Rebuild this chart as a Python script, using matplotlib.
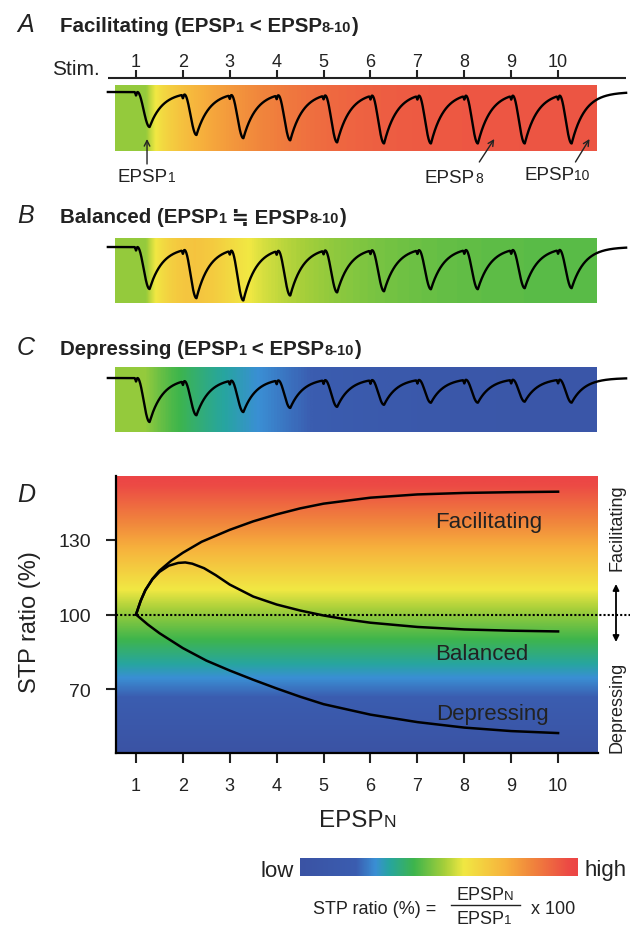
import numpy as np
import matplotlib
matplotlib.use("Agg")
import matplotlib.pyplot as plt
from matplotlib import transforms
from matplotlib.colors import LinearSegmentedColormap, Normalize

plt.rcParams['font.family'] = ['Liberation Sans', 'DejaVu Sans']
INK = '#222222'

# ---- data ----
stim = np.arange(1, 11)

# EPSP amplitudes of the example traces (arbitrary units, depth below baseline)
fac_amp = [35, 42, 45, 47, 49, 50, 50, 50, 50, 50]
bal_amp = [42, 50, 52, 47, 44, 43, 41, 41, 40, 40]
dep_amp = [44, 36, 33, 29, 28, 26, 24, 24, 23, 24]

# STP ratio curves of panel D
fac_x = [1, 1.1, 1.2, 1.35, 1.5, 1.75, 2, 2.4, 3, 3.5, 4, 4.5, 5, 6, 7, 8, 9, 10]
fac_y = [100, 105.5, 109.8, 114.3, 117.6, 121.6, 124.8, 129.2, 134, 137.4, 140.2, 142.6, 144.5, 146.9, 148.2, 148.8, 149.1, 149.3]
bal_x = [1, 1.1, 1.2, 1.35, 1.5, 1.7, 1.9, 2.05, 2.2, 2.45, 2.7, 3.0, 3.5, 4, 4.5, 5, 5.5, 6, 7, 8, 9, 10]
bal_y = [100, 105.5, 109.8, 114.1, 117.1, 119.6, 120.7, 120.9, 120.4, 118.6, 115.8, 112, 107.2, 104, 101.6, 99.6, 98, 96.7, 95, 94, 93.5, 93.2]
dep_x = [1, 1.25, 1.5, 2, 2.5, 3, 3.5, 4, 4.5, 5, 6, 7, 8, 9, 10]
dep_y = [100, 96, 92.5, 86.5, 81.5, 77.5, 73.8, 70.3, 67, 64, 59.8, 56.8, 54.6, 53.2, 52.4]

y_ticks = [70, 100, 130]

# low -> high colour scale
cm_pos = [0, 0.2, 0.27, 0.32, 0.41, 0.52, 0.59, 0.74, 0.83, 0.97, 1.0]
cm_col = ['#3a53a4', '#3b5db0', '#3a8fd4', '#27a5a0', '#3eb54c', '#a6cf3a',
          '#f1e843', '#f7b23d', '#f1883c', '#ec4a45', '#ec4545']
cmap = LinearSegmentedColormap.from_list('stp', list(zip(cm_pos, cm_col)))

# ---- figure ----
W, H = 636, 929
fig = plt.figure(figsize=(W / 100, H / 100), dpi=100)
renderer = fig.canvas.get_renderer()


def px_axes(left, top, width, height):
    return fig.add_axes([left / W, 1 - (top + height) / H, width / W, height / H])


bg = px_axes(0, 0, W, H)
bg.set_xlim(0, W)
bg.set_ylim(H, 0)
bg.axis('off')


def rich(ax, x, y, parts, **kw):
    # pieces of text on one baseline, small digits like the original's subscripts
    dx = 0.0
    for txt, size in parts:
        tr = transforms.offset_copy(ax.transData, fig=fig, x=dx, y=0, units='dots')
        t = ax.text(x, y, txt, transform=tr, fontsize=size, ha='left', va='baseline', **kw)
        dx += t.get_window_extent(renderer).width
    return dx


XL, XR = -1.8998, 11.661          # stimulus units across the full width
YLO, YHI = 44.4, 155.6            # STP ratio range of panel D
norm = Normalize(YLO, YHI)
TP, TAU = 0.26, 0.28
LAG = 0.2                         # colour follows the response peak, a bit after the stimulus


def make_trace(amps):
    t = np.linspace(0.40, 11.45, 4000)
    v = np.zeros_like(t)
    for s, a in zip(stim, amps):
        tau = t - s - 0.03
        fall = (tau >= 0) & (tau < TP)
        v[fall] -= a * (1 - np.cos(np.pi * tau[fall] / TP)) / 2
        rec = tau >= TP
        v[rec] -= a * np.exp(-(tau[rec] - TP) / TAU)
        v -= 3.5 * np.exp(-((t - s) / 0.015) ** 2)
    return t, v


def trace_panel(top, bottom, base, amps, cx, cy, box_top, box_bot):
    ax = px_axes(0, top, W, bottom - top)
    ax.set_xlim(XL, XR)
    ax.set_ylim(base - bottom, base - top)
    ax.axis('off')
    xs = np.linspace(0.55, 10.81, 500)
    cols = cmap(norm(np.interp(xs - LAG, cx, cy)))[None, :, :]
    ax.imshow(cols, extent=[0.55, 10.81, base - box_bot, base - box_top],
              aspect='auto', interpolation='bilinear', zorder=1)
    t, v = make_trace(amps)
    ax.plot(t, v, color='black', lw=1.7, zorder=3)
    return ax


axA = trace_panel(40, 190, 93, fac_amp, fac_x, fac_y, 86, 152)
axB = trace_panel(230, 310, 248, bal_amp, bal_x, bal_y, 239, 304)
axC = trace_panel(360, 440, 379, dep_amp, dep_x, dep_y, 368, 433)

# stimulus axis of panel A
axA.plot([0.403, 11.448], [14, 14], color=INK, lw=1.5, solid_capstyle='butt')
axA.vlines(stim, 14, 22, color=INK, lw=1.5)
for s in stim:
    axA.text(s, 26, str(s), ha='center', va='baseline', fontsize=13, color=INK)
axA.text(0.23, 18, 'Stim.', ha='right', va='baseline', fontsize=15, color=INK)

# EPSP labels with arrows
rich(axA, 0.616, -89, [('EPSP', 13.5), ('1', 10)], color=INK)
rich(axA, 7.162, -90, [('EPSP', 13.5), ('8', 10)], color=INK)
rich(axA, 9.273, -87, [('EPSP', 13.5), ('10', 10)], color=INK)
arr = dict(arrowstyle='->', lw=1.0, color=INK, shrinkA=0, shrinkB=0)
axA.annotate('', xy=(1.235, -47), xytext=(1.235, -72), arrowprops=arr)
axA.annotate('', xy=(8.64, -47), xytext=(8.32, -70), arrowprops=arr)
axA.annotate('', xy=(10.67, -47), xytext=(10.37, -70), arrowprops=arr)

# panel titles
for letter, yb in [('A', 32), ('B', 223), ('C', 355), ('D', 502)]:
    bg.text(17, yb, letter, fontsize=18, style='italic', ha='left', va='baseline', color=INK)
tkw = dict(color=INK, fontweight='bold')
rich(bg, 60, 32, [('Facilitating (EPSP', 14.8), ('1', 10.5), (' < EPSP', 14.8), ('8-10', 10.5), (')', 14.8)], **tkw)
rich(bg, 60, 223, [('Balanced (EPSP', 14.8), ('1', 10.5), (' \u2252 EPSP', 14.8), ('8-10', 10.5), (')', 14.8)], **tkw)
rich(bg, 60, 355, [('Depressing (EPSP', 14.8), ('1', 10.5), (' < EPSP', 14.8), ('8-10', 10.5), (')', 14.8)], **tkw)

# ---- panel D ----
axD = px_axes(116, 477, 482, 277)
axD.set_xlim(0.5736, 10.851)
axD.set_ylim(YLO, YHI)
grad = np.linspace(YLO, YHI, 400)[:, None]
axD.imshow(grad, cmap=cmap, norm=norm, extent=[0.5736, 10.851, YLO, YHI],
           origin='lower', aspect='auto', interpolation='bilinear', zorder=0)
for cx, cy in [(fac_x, fac_y), (bal_x, bal_y), (dep_x, dep_y)]:
    axD.plot(cx, cy, color='black', lw=1.8, zorder=3)
axD.axhline(100, xmin=0, xmax=(630 - 116) / 482, color='black', lw=1.5,
            ls=(0, (1, 1)), clip_on=False, zorder=4)
for sp in ['top', 'right']:
    axD.spines[sp].set_visible(False)
for sp in ['left', 'bottom']:
    axD.spines[sp].set_linewidth(1.6)
    axD.spines[sp].set_color('black')
axD.set_xticks(stim)
axD.set_yticks(y_ticks)
axD.tick_params(axis='both', direction='out', length=7, width=1.5, color=INK)
axD.tick_params(axis='y', labelsize=14, pad=11, labelcolor=INK)
axD.tick_params(axis='x', labelsize=13, pad=10, labelcolor=INK)

axD.text(8.52, 135.2, 'Facilitating', fontsize=16, ha='center', va='baseline', color=INK)
axD.text(8.37, 82.0, 'Balanced', fontsize=16, ha='center', va='baseline', color=INK)
axD.text(8.59, 58.0, 'Depressing', fontsize=16, ha='center', va='baseline', color=INK)

bg.text(30, 622, 'STP ratio (%)', rotation=90, fontsize=17, ha='center', va='center', color=INK)
rich(bg, 319, 827, [('EPSP', 17.5), ('N', 12.5)], color=INK)

bg.text(617, 528, 'Facilitating', rotation=90, fontsize=13, ha='center', va='center', color=INK)
bg.text(617, 707, 'Depressing', rotation=90, fontsize=13, ha='center', va='center', color=INK)
bg.annotate('', xy=(616, 585), xytext=(616, 643),
            arrowprops=dict(arrowstyle='<|-|>', lw=1.3, color='black', mutation_scale=9,
                            shrinkA=0, shrinkB=0))

# ---- colour scale and formula ----
axK = px_axes(300, 859, 278, 18)
axK.imshow(np.linspace(0, 1, 400)[None, :], cmap=cmap, aspect='auto',
           extent=[0, 1, 0, 1], interpolation='bilinear')
axK.axis('off')
bg.text(294, 877, 'low', fontsize=16, ha='right', va='baseline', color=INK)
bg.text(585, 876, 'high', fontsize=16, ha='left', va='baseline', color=INK)

bg.text(436, 914, 'STP ratio (%) =', fontsize=13, ha='right', va='baseline', color=INK)
bg.plot([451, 520], [906, 906], color=INK, lw=1.0)
rich(bg, 456, 900, [('EPSP', 13), ('N', 9.5)], color=INK)
rich(bg, 456, 924, [('EPSP', 13), ('1', 9.5)], color=INK)
bg.text(531, 914, 'x 100', fontsize=13, ha='left', va='baseline', color=INK)

fig.savefig('out.png', dpi=100, facecolor='white')
